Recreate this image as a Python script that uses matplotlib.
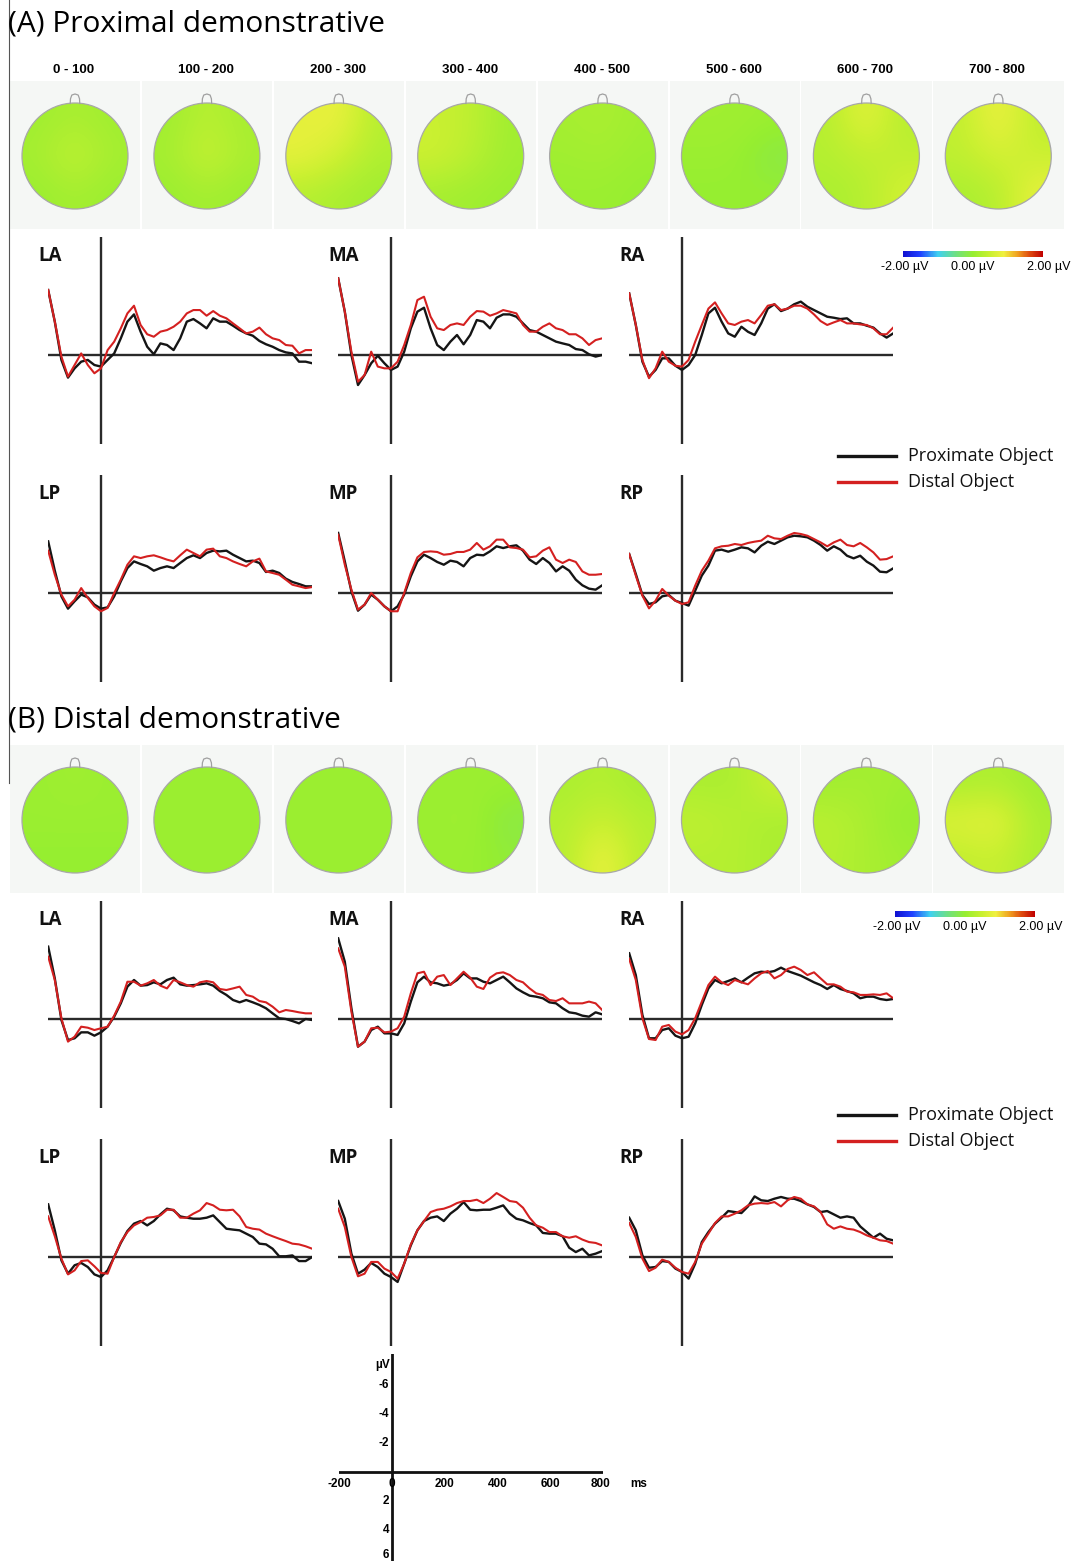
import numpy as np
import matplotlib
matplotlib.use('Agg')
import matplotlib.pyplot as plt
from matplotlib.colors import LinearSegmentedColormap, Normalize
from matplotlib.patches import Circle
from matplotlib.lines import Line2D
import matplotlib.cm as cm

# ---- data -------------------------------------------------------------
# sampling grid (ms)
times = np.arange(-200, 801, 25)

# (A) proximal demonstrative, values in microvolts (negative plotted up)
A_LA_prox = [-4.48, -2.30, 0.34, 1.56, 0.92, 0.46, 0.34, 0.69, 0.80, 0.34, -0.11, -1.15, -2.30, -2.80, -1.61,
             -0.57, -0.05, -0.80, -0.69, -0.34, -1.15, -2.30, -2.48, -2.18, -1.84, -2.53, -2.30, -2.30, -2.02,
             -1.72, -1.49, -1.33, -0.97, -0.74, -0.57, -0.34, -0.18, -0.11, 0.46, 0.46, 0.57]
A_LA_dist = [-4.48, -2.30, 0.11, 1.49, 0.69, -0.11, 0.69, 1.26, 0.92, -0.34, -0.92, -1.84, -2.87, -3.40, -2.07,
             -1.43, -1.26, -1.61, -1.72, -1.95, -2.30, -2.87, -3.10, -3.10, -2.71, -3.03, -2.71, -2.53, -2.18,
             -1.84, -1.49, -1.61, -1.89, -1.43, -1.15, -1.03, -0.69, -0.64, -0.11, -0.34, -0.34]
A_MA_prox = [-5.29, -2.99, 0.00, 2.07, 1.38, 0.57, 0.05, 0.57, 1.03, 0.80, -0.23, -1.84, -2.99, -3.26, -1.84,
             -0.69, -0.34, -0.92, -1.38, -0.74, -1.38, -2.41, -2.30, -1.84, -2.57, -2.80, -2.80, -2.64, -2.18,
             -1.72, -1.61, -1.38, -1.15, -0.92, -0.80, -0.69, -0.41, -0.34, -0.05, 0.11, 0.00]
A_MA_dist = [-5.29, -2.99, -0.23, 1.84, 1.38, -0.23, 0.80, 0.92, 0.92, 0.46, -0.69, -2.07, -3.79, -4.02, -2.64,
             -1.84, -1.72, -2.07, -2.18, -2.07, -2.64, -3.03, -2.99, -2.71, -2.87, -3.10, -2.99, -2.87, -2.07,
             -1.61, -1.61, -1.95, -2.18, -1.84, -1.72, -1.43, -1.43, -1.15, -0.69, -1.03, -1.15]
A_RA_prox = [-4.25, -2.07, 0.46, 1.50, 1.03, 0.23, 0.23, 0.74, 1.03, 0.69, 0.00, -1.38, -2.87, -3.26, -2.30,
             -1.49, -1.26, -1.95, -1.60, -1.38, -2.18, -3.20, -3.50, -3.03, -3.20, -3.50, -3.68, -3.33, -3.10,
             -2.87, -2.64, -2.57, -2.48, -2.53, -2.18, -2.18, -2.02, -1.89, -1.49, -1.20, -1.49]
A_RA_dist = [-4.25, -2.07, 0.34, 1.60, 0.92, -0.23, 0.46, 0.74, 0.80, 0.34, -0.92, -2.07, -3.20, -3.63, -2.87,
             -2.18, -2.07, -2.30, -2.41, -2.18, -2.76, -3.40, -3.50, -3.10, -3.20, -3.40, -3.40, -3.20, -2.80,
             -2.34, -2.07, -2.25, -2.41, -2.18, -2.18, -2.11, -2.07, -1.84, -1.43, -1.43, -1.89]
A_LP_prox = [-3.56, -1.54, 0.23, 1.08, 0.57, 0.11, 0.30, 0.80, 1.08, 0.99, 0.23, -0.80, -1.72, -2.18, -2.00,
             -1.84, -1.54, -1.72, -1.84, -1.72, -2.07, -2.41, -2.60, -2.41, -2.76, -2.92, -2.87, -2.92, -2.64,
             -2.41, -2.18, -2.23, -2.07, -1.45, -1.54, -1.38, -0.99, -0.76, -0.62, -0.46, -0.46]
A_LP_dist = [-2.92, -1.26, 0.11, 0.92, 0.46, -0.34, 0.34, 0.92, 1.26, 1.03, 0.00, -0.92, -1.95, -2.53, -2.41,
             -2.53, -2.60, -2.46, -2.30, -2.18, -2.60, -2.99, -2.76, -2.53, -2.99, -3.06, -2.53, -2.41, -2.18,
             -2.00, -1.84, -2.18, -2.37, -1.49, -1.38, -1.26, -0.92, -0.57, -0.46, -0.34, -0.41]
A_MP_prox = [-4.14, -2.18, -0.11, 1.22, 0.80, 0.11, 0.46, 0.92, 1.26, 0.92, 0.11, -1.15, -2.18, -2.64, -2.41,
             -2.14, -1.95, -2.23, -2.14, -1.84, -2.41, -2.64, -2.60, -2.87, -3.22, -3.10, -3.22, -3.29, -2.92,
             -2.30, -2.00, -2.41, -2.07, -1.49, -1.84, -1.54, -0.92, -0.53, -0.30, -0.23, -0.53]
A_MP_dist = [-4.02, -1.95, -0.23, 1.15, 0.80, 0.00, 0.46, 0.92, 1.26, 1.26, 0.00, -1.38, -2.46, -2.83, -2.87,
             -2.83, -2.64, -2.69, -2.83, -2.83, -2.99, -3.45, -2.99, -3.22, -3.68, -3.68, -3.15, -3.10, -2.99,
             -2.46, -2.53, -2.92, -3.15, -2.30, -2.07, -2.30, -2.14, -1.49, -1.26, -1.26, -1.31]
A_RP_prox = [-2.69, -1.31, 0.14, 0.76, 0.64, 0.23, 0.14, 0.53, 0.69, 0.87, -0.16, -1.20, -1.89, -2.92, -2.99,
             -2.85, -2.99, -3.15, -3.08, -2.80, -3.26, -3.54, -3.38, -3.61, -3.84, -3.95, -3.91, -3.84, -3.61,
             -3.31, -2.92, -3.22, -2.99, -2.57, -2.39, -2.57, -2.16, -1.89, -1.47, -1.43, -1.70]
A_RP_dist = [-2.69, -1.20, 0.18, 1.06, 0.53, -0.28, 0.18, 0.53, 0.76, 0.64, -0.51, -1.54, -2.23, -3.08, -3.22,
             -3.26, -3.38, -3.31, -3.45, -3.54, -3.61, -3.95, -3.77, -3.72, -3.95, -4.14, -4.07, -3.95, -3.72,
             -3.49, -3.22, -3.49, -3.68, -3.31, -3.22, -3.45, -3.15, -2.80, -2.30, -2.34, -2.53]

# (B) distal demonstrative
B_LA_prox = [-4.99, -2.80, 0.07, 1.45, 1.33, 0.92, 0.92, 1.15, 0.92, 0.53, -0.16, -1.08, -2.23, -2.69, -2.30,
             -2.34, -2.53, -2.39, -2.69, -2.85, -2.39, -2.30, -2.34, -2.39, -2.46, -2.30, -1.93, -1.66, -1.31,
             -1.15, -1.31, -1.15, -0.97, -0.74, -0.39, -0.05, 0.00, 0.14, 0.30, 0.00, 0.07]
B_LA_dist = [-4.30, -2.69, -0.05, 1.56, 1.22, 0.53, 0.60, 0.76, 0.64, 0.53, -0.23, -1.20, -2.57, -2.57, -2.30,
             -2.46, -2.69, -2.30, -2.11, -2.69, -2.53, -2.34, -2.23, -2.53, -2.62, -2.53, -2.07, -2.00, -2.11,
             -2.23, -1.66, -1.54, -1.24, -1.15, -0.85, -0.46, -0.62, -0.55, -0.46, -0.39, -0.39]
B_MA_prox = [-5.56, -3.95, -0.74, 1.91, 1.56, 0.76, 0.53, 0.99, 0.99, 1.10, 0.30, -1.20, -2.53, -2.92, -2.53,
             -2.46, -2.30, -2.39, -2.69, -3.15, -2.80, -2.80, -2.57, -2.46, -2.69, -2.92, -2.53, -2.11, -1.84,
             -1.61, -1.54, -1.43, -1.15, -1.08, -0.74, -0.46, -0.39, -0.23, -0.16, -0.46, -0.32]
B_MA_dist = [-4.87, -3.61, -0.51, 1.91, 1.56, 0.64, 0.60, 0.92, 0.87, 0.64, -0.16, -1.77, -3.15, -3.26, -2.34,
             -2.92, -3.03, -2.34, -2.80, -3.26, -2.85, -2.23, -2.07, -2.85, -3.15, -3.22, -3.03, -2.69, -2.53,
             -2.11, -1.77, -1.66, -1.31, -1.24, -1.43, -1.08, -1.08, -1.08, -1.20, -1.08, -0.62]
B_RA_prox = [-4.53, -3.03, -0.28, 1.33, 1.33, 0.76, 0.64, 1.15, 1.33, 1.22, 0.30, -0.97, -2.11, -2.69, -2.46,
             -2.62, -2.80, -2.53, -2.85, -3.15, -3.26, -3.22, -3.31, -3.54, -3.31, -3.15, -2.99, -2.76, -2.53,
             -2.34, -2.07, -2.34, -2.07, -1.93, -1.77, -1.43, -1.54, -1.54, -1.38, -1.31, -1.38]
B_RA_dist = [-4.14, -2.69, -0.05, 1.38, 1.45, 0.53, 0.41, 0.87, 1.06, 0.76, -0.05, -1.20, -2.34, -2.92, -2.53,
             -2.34, -2.69, -2.53, -2.39, -2.80, -3.15, -3.31, -2.80, -3.03, -3.45, -3.61, -3.38, -3.03, -3.22,
             -2.80, -2.39, -2.39, -2.23, -1.89, -1.84, -1.66, -1.66, -1.70, -1.66, -1.77, -1.43]
B_LP_prox = [-3.63, -1.84, 0.23, 1.15, 0.57, 0.41, 0.69, 1.20, 1.38, 0.92, 0.00, -0.97, -1.79, -2.30, -2.48,
             -2.18, -2.48, -2.94, -3.33, -3.22, -2.80, -2.71, -2.64, -2.64, -2.71, -2.87, -2.41, -1.95, -1.89,
             -1.84, -1.61, -1.38, -0.92, -0.87, -0.57, -0.05, -0.05, -0.11, 0.28, 0.28, 0.00]
B_LP_dist = [-2.80, -1.43, 0.11, 1.20, 0.92, 0.28, 0.23, 0.64, 1.10, 1.15, 0.00, -1.03, -1.72, -2.18, -2.41,
             -2.71, -2.76, -2.87, -3.26, -3.26, -2.71, -2.71, -2.99, -3.22, -3.72, -3.56, -3.26, -3.22, -3.26,
             -2.80, -2.07, -1.95, -1.89, -1.61, -1.43, -1.26, -1.10, -0.92, -0.87, -0.74, -0.57]
B_MP_prox = [-3.86, -2.64, -0.23, 1.15, 0.87, 0.41, 0.69, 1.15, 1.38, 1.72, 0.46, -0.80, -1.84, -2.48, -2.71,
             -2.80, -2.48, -2.99, -3.33, -3.79, -3.26, -3.22, -3.26, -3.26, -3.40, -3.56, -2.99, -2.64, -2.53,
             -2.34, -2.18, -1.66, -1.61, -1.61, -1.43, -0.64, -0.34, -0.57, -0.11, -0.23, -0.41]
B_MP_dist = [-3.33, -2.07, 0.00, 1.33, 1.15, 0.34, 0.34, 0.80, 1.03, 1.49, 0.46, -0.87, -1.84, -2.48, -3.10,
             -3.26, -3.33, -3.49, -3.72, -3.86, -3.86, -3.95, -3.72, -4.02, -4.41, -4.14, -3.86, -3.79, -3.40,
             -2.71, -2.18, -2.02, -1.72, -1.72, -1.43, -1.33, -1.43, -1.20, -1.03, -0.97, -0.80]
B_RP_prox = [-2.71, -1.84, -0.11, 0.74, 0.69, 0.28, 0.34, 0.80, 1.03, 1.49, 0.46, -1.03, -1.72, -2.30, -2.71,
             -3.17, -3.10, -3.03, -3.49, -4.18, -3.91, -3.86, -4.02, -4.14, -4.02, -4.02, -3.86, -3.63, -3.45,
             -3.10, -3.17, -2.94, -2.71, -2.80, -2.71, -2.11, -1.72, -1.33, -1.61, -1.26, -1.15]
B_RP_dist = [-2.34, -1.38, 0.11, 0.97, 0.74, 0.18, 0.34, 0.74, 1.03, 1.15, 0.34, -0.92, -1.61, -2.34, -2.80,
             -2.80, -2.99, -3.22, -3.56, -3.68, -3.72, -3.68, -3.79, -3.49, -3.91, -4.14, -4.02, -3.63, -3.49,
             -3.10, -2.25, -1.95, -2.11, -1.95, -1.89, -1.72, -1.49, -1.33, -1.15, -1.10, -0.92]

windows = ['0 - 100', '100 - 200', '200 - 300', '300 - 400', '400 - 500', '500 - 600', '600 - 700', '700 - 800']

# topographic maps: 3x3 grid (anterior->posterior, left->right), microvolts
topo_A = [
    [[0.10, 0.20, 0.10], [0.15, 0.45, 0.15], [0.05, 0.15, 0.05]],
    [[0.10, 0.35, 0.15], [0.15, 0.50, 0.20], [0.05, 0.15, 0.05]],
    [[0.75, 0.85, 0.30], [0.80, 0.55, 0.25], [0.30, 0.20, 0.10]],
    [[0.50, 0.40, 0.10], [0.55, 0.35, 0.10], [0.15, 0.10, 0.05]],
    [[0.15, 0.20, 0.10], [0.10, 0.15, 0.05], [0.05, 0.05, 0.00]],
    [[0.10, 0.10, 0.05], [0.05, 0.05, -0.15], [0.00, 0.00, 0.00]],
    [[0.30, 0.80, 0.30], [0.30, 0.40, 0.40], [0.20, 0.30, 0.60]],
    [[0.40, 0.90, 0.40], [0.40, 0.60, 0.50], [0.20, 0.30, 0.80]],
]
topo_B = [
    [[0.05, 0.10, 0.05], [0.05, 0.05, 0.05], [0.00, 0.00, 0.00]],
    [[0.05, 0.05, 0.05], [0.05, 0.05, 0.05], [0.05, 0.05, 0.05]],
    [[0.05, 0.05, 0.05], [0.05, 0.05, 0.05], [0.05, 0.05, 0.05]],
    [[0.05, 0.05, 0.05], [0.05, 0.10, -0.15], [0.05, 0.05, -0.05]],
    [[0.20, 0.30, 0.15], [0.30, 0.50, 0.30], [0.30, 0.90, 0.30]],
    [[0.20, 0.20, 0.50], [0.40, 0.30, 0.20], [0.30, 0.30, 0.20]],
    [[0.10, 0.15, 0.10], [0.35, 0.20, 0.00], [0.30, 0.20, 0.10]],
    [[0.20, 0.25, 0.10], [0.70, 0.80, 0.20], [0.40, 0.50, 0.20]],
]

sites = ['LA', 'MA', 'RA', 'LP', 'MP', 'RP']
erp_A = {'LA': (A_LA_prox, A_LA_dist), 'MA': (A_MA_prox, A_MA_dist), 'RA': (A_RA_prox, A_RA_dist),
         'LP': (A_LP_prox, A_LP_dist), 'MP': (A_MP_prox, A_MP_dist), 'RP': (A_RP_prox, A_RP_dist)}
erp_B = {'LA': (B_LA_prox, B_LA_dist), 'MA': (B_MA_prox, B_MA_dist), 'RA': (B_RA_prox, B_RA_dist),
         'LP': (B_LP_prox, B_LP_dist), 'MP': (B_MP_prox, B_MP_dist), 'RP': (B_RP_prox, B_RP_dist)}

# ---- figure -------------------------------------------------------------
W, H = 1087, 1561
fig = plt.figure(figsize=(W / 100, H / 100), dpi=100)
fig.patch.set_facecolor('white')

SANS = ['Open Sans', 'DejaVu Sans']
ARIAL = ['Liberation Sans', 'DejaVu Sans']
NARROW = ['Liberation Sans Narrow', 'Liberation Sans', 'DejaVu Sans']

cmap = LinearSegmentedColormap.from_list('topo', [
    (0.0, '#1010d0'), (0.12, '#2040ff'), (0.25, '#40d0f0'), (0.38, '#70e080'),
    (0.5, '#96ee30'), (0.62, '#c8f030'), (0.72, '#f0f040'), (0.82, '#f0a020'),
    (0.9, '#e05010'), (1.0, '#c00000')])
norm = Normalize(-2, 2)

PX_MS = 0.264     # pixels per ms
PX_UV = 14.5      # pixels per microvolt
AX_LINE = '#2a2a2a'
CELL = 131.9


def px_axes(left, top, width, height):
    return fig.add_axes([left / W, 1 - (top + height) / H, width / W, height / H])


def ftext(x, y, s, **kw):
    return fig.text(x / W, 1 - y / H, s, **kw)


def erp_axes(x0, base):
    ax = px_axes(x0 - 200 * PX_MS, base - 118, 1000 * PX_MS, 207)
    ax.set_xlim(-200, 800)
    ax.set_ylim(89 / PX_UV, -118 / PX_UV)
    ax.axis('off')
    return ax


def draw_topo_row(grids, top):
    r = 53.0
    cy = top + 75
    for i, g in enumerate(grids):
        cx = 75 + i * CELL
        ax = px_axes(cx - 65, top, 130.5, 148)
        ax.set_facecolor('#f5f7f5')
        ax.set_xlim(-65 / r, 65.5 / r)
        ax.set_ylim(-(top + 148 - cy) / r, (cy - top) / r)
        ax.set_xticks([])
        ax.set_yticks([])
        for s in ax.spines.values():
            s.set_visible(False)
        im = ax.imshow(np.array(g), cmap=cmap, norm=norm, extent=(-1, 1, -1, 1),
                       interpolation='bicubic', origin='upper', zorder=1)
        head = Circle((0, 0), 1.0, facecolor='none', edgecolor='#a8a8a8', lw=0.9, zorder=3)
        ax.add_patch(head)
        im.set_clip_path(head)
        ax.plot([-0.09, -0.085, -0.06, 0, 0.06, 0.085, 0.09],
                [0.99, 1.08, 1.15, 1.17, 1.15, 1.08, 0.99], color='#a0a0a0', lw=0.9, zorder=3)


def draw_colorbar(left, top):
    cax = px_axes(left, top, 140, 6)
    cb = fig.colorbar(cm.ScalarMappable(norm=norm, cmap=cmap), cax=cax, orientation='horizontal')
    cb.set_ticks([])
    cb.outline.set_visible(False)
    for xv, lab in zip([left + 2, left + 70, left + 146], ['-2.00 µV', '0.00 µV', '2.00 µV']):
        ftext(xv, top + 16, lab, ha='center', va='center', fontsize=9, family=ARIAL)


def draw_legend(top):
    fig.add_artist(Line2D([838 / W, 896 / W], [1 - top / H] * 2, color='#151515', lw=2.4))
    fig.add_artist(Line2D([838 / W, 896 / W], [1 - (top + 26) / H] * 2, color='#d42020', lw=2.4))
    ftext(908, top, 'Proximate Object', ha='left', va='center', fontsize=13, family=SANS, color='#111111')
    ftext(908, top + 26, 'Distal Object', ha='left', va='center', fontsize=13, family=SANS, color='#111111')


def draw_block(erp, bases):
    cols = [101, 391, 682]
    for k, site in enumerate(sites):
        x0 = cols[k % 3]
        base = bases[k // 3]
        ax = erp_axes(x0, base)
        ax.axvline(0, color=AX_LINE, lw=1.7, zorder=1)
        ax.axhline(0, color=AX_LINE, lw=1.7, zorder=1)
        prox, dist = erp[site]
        ax.plot(times, prox, color='#151515', lw=1.7, zorder=2)
        ax.plot(times, dist, color='#d42020', lw=1.5, zorder=3)
        ftext(x0 - 63, base - 99, site, ha='left', va='center', fontsize=13.5, fontweight='bold',
              family=SANS, color='#111111')


# left border line
fig.add_artist(Line2D([9 / W, 9 / W], [1, 1 - 783 / H], color='#555555', lw=0.8))

# (A) block
ftext(8, 32, '(A) Proximal demonstrative', ha='left', va='baseline', fontsize=21.5, family=SANS)
for i, w in enumerate(windows):
    ftext(74 + i * CELL, 70, w, ha='center', va='center', fontsize=9.5, fontweight='bold', family=NARROW)
draw_topo_row(topo_A, 81)
draw_block(erp_A, [355, 593])
draw_colorbar(903, 251)
draw_legend(456)

# (B) block
ftext(8, 728, '(B) Distal demonstrative', ha='left', va='baseline', fontsize=21.5, family=SANS)
draw_topo_row(topo_B, 745)
draw_block(erp_B, [1019, 1257])
draw_colorbar(895, 911)
draw_legend(1115)

# calibration axes
sax = erp_axes(391.8, 1472)
sax.axvline(0, color='#111111', lw=2.0)
sax.axhline(0, color='#111111', lw=2.0)
for v in [-6, -4, -2, 2, 4, 6]:
    sax.text(-10, v if v != 6 else 5.75, str(v), ha='right', va='center', fontsize=8.5,
             fontweight='bold', family=ARIAL)
sax.text(-6, -7.4, 'µV', ha='right', va='center', fontsize=8.5, fontweight='bold', family=ARIAL)
for t in [-200, 0, 200, 400, 600, 800]:
    sax.text(t - 10 if t == 800 else t, 0.8, str(t), ha='center', va='center', fontsize=8.5,
             fontweight='bold', family=ARIAL)
sax.text(935, 0.8, 'ms', ha='center', va='center', fontsize=8.5, fontweight='bold', family=ARIAL)

fig.savefig('out.png', dpi=100)
